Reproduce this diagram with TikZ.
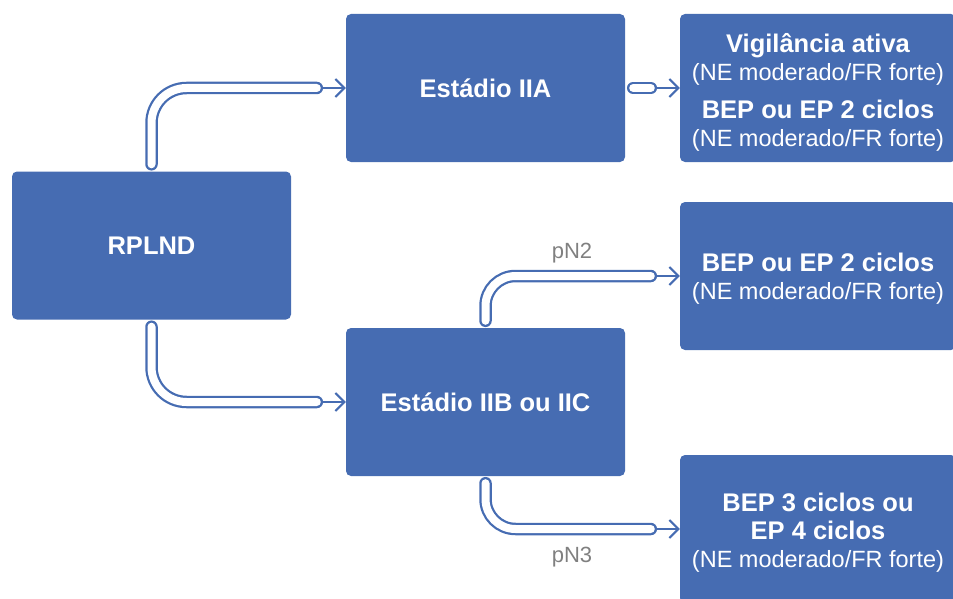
\documentclass[tikz,border=0pt]{standalone}
\usepackage{fontspec}
\setmainfont{Liberation Sans}
\usetikzlibrary{arrows.meta}
\definecolor{boxblue}{RGB}{70,108,178}
\definecolor{lblgray}{RGB}{128,128,128}
\tikzset{
  box/.style={fill=boxblue, rounded corners=5pt, text=white, minimum width=279pt, minimum height=148pt, inner sep=0pt, align=center, font=\fontsize{23.5}{28}\selectfont},
  boxtext/.style={text=white, inner sep=0pt, align=center, font=\fontsize{23.5}{28}\selectfont},
  pipeouter/.style={draw=boxblue, line width=12.5pt, line cap=round},
  pipeinner/.style={draw=white, line width=8pt, line cap=round},
  thinarrow/.style={draw=boxblue, line width=2pt, -{Straight Barb[length=9pt,width=18pt]}},
  lbl/.style={text=lblgray, font=\fontsize{22}{26}\selectfont, inner sep=0pt}
}
\newcommand{\bt}[1]{{\fontsize{25.5}{28}\selectfont\bfseries #1}}
\begin{document}
\begin{tikzpicture}[x=1pt,y=-1pt]
\useasboundingbox (0,0) rectangle (953,599);
\node[box] (rplnd) at (151.5,245.5) {\bt{RPLND}};
\node[box] (iia) at (485.5,88) {\bt{Estádio IIA}};
\node[box] (iib) at (485.5,402) {\bt{Estádio IIB ou IIC}};
\node[box, minimum width=276pt] (r1) at (818,88) {};
\node[box, minimum width=276pt] (r2) at (818,276) {};
\node[box, minimum width=276pt] (r3) at (818,529) {};
\node[boxtext] (r1t) at (818,92) {\bt{Vigilância ativa}\\(NE moderado/FR forte)\\[10pt]\bt{BEP ou EP 2 ciclos}\\(NE moderado/FR forte)};
\node[boxtext] (r2t) at (818,279) {\bt{BEP ou EP 2 ciclos}\\(NE moderado/FR forte)};
\node[boxtext] (r3t) at (818,533) {\bt{BEP 3 ciclos ou}\\\bt{EP 4 ciclos}\\(NE moderado/FR forte)};
\node[lbl] (lbl2) at (572,253) {pN2};
\node[lbl] (lbl3) at (572,557) {pN3};
% connector 1
\draw[thinarrow] ([xshift=-30pt]iia.west) -- (iia.west);
\draw[pipeouter, rounded corners=35pt] ([yshift=7pt]rplnd.north) |- ([xshift=-29pt]iia.west);
\draw[pipeinner, rounded corners=35pt] ([yshift=7pt]rplnd.north) |- ([xshift=-29pt]iia.west);
% connector 2
\draw[thinarrow] ([xshift=-30pt]r1.west) -- (r1.west);
\draw[pipeouter] ([xshift=8pt]iia.east) -- ([xshift=-29pt]r1.west);
\draw[pipeinner] ([xshift=8pt]iia.east) -- ([xshift=-29pt]r1.west);
% connector 3
\draw[thinarrow] ([xshift=-30pt]iib.west) -- (iib.west);
\draw[pipeouter, rounded corners=35pt] ([yshift=-7pt]rplnd.south) |- ([xshift=-29pt]iib.west);
\draw[pipeinner, rounded corners=35pt] ([yshift=-7pt]rplnd.south) |- ([xshift=-29pt]iib.west);
% connector 4 (pN2)
\draw[thinarrow] ([xshift=-30pt]r2.west) -- (r2.west);
\draw[pipeouter, rounded corners=30pt] ([yshift=7pt]iib.north) |- ([xshift=-29pt]r2.west);
\draw[pipeinner, rounded corners=30pt] ([yshift=7pt]iib.north) |- ([xshift=-29pt]r2.west);
% connector 5 (pN3)
\draw[thinarrow] ([xshift=-30pt]r3.west) -- (r3.west);
\draw[pipeouter, rounded corners=30pt] ([yshift=-7pt]iib.south) |- ([xshift=-29pt]r3.west);
\draw[pipeinner, rounded corners=30pt] ([yshift=-7pt]iib.south) |- ([xshift=-29pt]r3.west);
\end{tikzpicture}
\end{document}
